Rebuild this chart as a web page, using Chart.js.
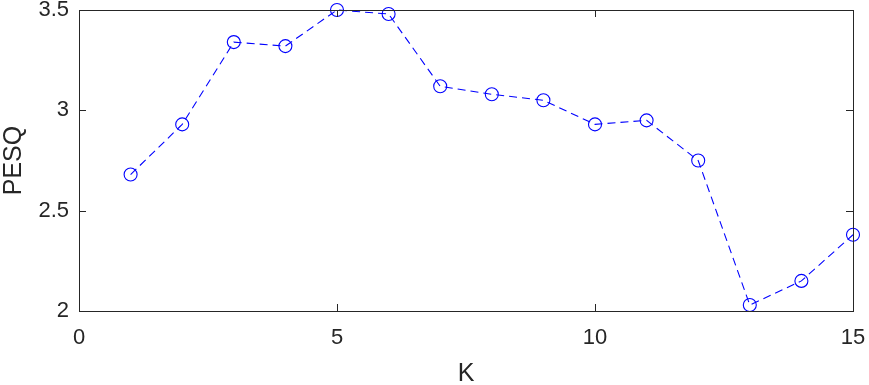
<!DOCTYPE html>
<html>
<head>
<meta charset="utf-8">
<script src="https://cdn.jsdelivr.net/npm/chart.js@4/dist/chart.umd.min.js"></script>
<style>
  html, body { margin: 0; padding: 0; background: #fff; }
  #wrap { width: 869px; height: 385px; }
</style>
</head>
<body>
<div id="wrap"><canvas id="chart" width="869" height="385"></canvas></div>
<script>
const kValues = [1, 2, 3, 4, 5, 6, 7, 8, 9, 10, 11, 12, 13, 14, 15];
const pesqValues = [2.68, 2.93, 3.34, 3.32, 3.50, 3.48, 3.12, 3.08, 3.05, 2.93, 2.95, 2.75, 2.03, 2.15, 2.38];
const xTicks = [0, 5, 10, 15];
const yTicks = [2, 2.5, 3, 3.5];

const points = kValues.map((k, i) => ({ x: k, y: pesqValues[i] }));
const axisColor = "#262626";
const fontFamily = "'Liberation Sans', Arial, Helvetica, sans-serif";

// box round the plot and MATLAB style ticks pointing inwards
const boxTicks = {
    id: "boxTicks",
    afterDatasetsDraw(chart) {
        const ctx = chart.ctx;
        const a = chart.chartArea;
        const xs = chart.scales.x, ys = chart.scales.y;
        const len = 7;
        ctx.save();
        ctx.strokeStyle = axisColor;
        ctx.lineWidth = 1;
        ctx.beginPath();
        for (let v of xTicks) {
            const px = Math.round(xs.getPixelForValue(v)) + 0.5;
            ctx.moveTo(px, a.bottom); ctx.lineTo(px, a.bottom - len);
            ctx.moveTo(px, a.top); ctx.lineTo(px, a.top + len);
        }
        for (let v of yTicks) {
            const py = Math.round(ys.getPixelForValue(v)) + 0.5;
            ctx.moveTo(a.left, py); ctx.lineTo(a.left + len, py);
            ctx.moveTo(a.right, py); ctx.lineTo(a.right - len, py);
        }
        ctx.stroke();
        ctx.strokeRect(Math.round(a.left) + 0.5, Math.round(a.top) + 0.5,
            Math.round(a.right - a.left), Math.round(a.bottom - a.top));
        ctx.restore();
    }
};

new Chart(document.getElementById("chart"), {
    type: "line",
    data: {
        datasets: [{
            data: points,
            borderColor: "#0000ff",
            borderWidth: 1.1,
            borderDash: [8, 5],
            pointStyle: "circle",
            pointRadius: 6.5,
            pointBorderWidth: 1.1,
            pointBorderColor: "#0000ff",
            pointBackgroundColor: "rgba(0,0,0,0)",
            fill: false,
            tension: 0,
            clip: false
        }]
    },
    options: {
        responsive: false,
        animation: false,
        events: [],
        layout: { padding: { left: 0, right: 16, top: 10, bottom: 0 } },
        plugins: { legend: { display: false }, tooltip: { enabled: false } },
        scales: {
            x: {
                type: "linear",
                min: 0, max: 15,
                afterBuildTicks: (scale) => { scale.ticks = xTicks.map(v => ({ value: v })); },
                afterFit: (scale) => {
                    scale.height = 74;
                    scale.paddingLeft = 0;
                    scale.paddingRight = 0;
                },
                grid: { display: false, drawTicks: false },
                border: { display: false },
                ticks: {
                    color: axisColor,
                    font: { family: fontFamily, size: 22 },
                    padding: 14,
                    maxRotation: 0
                },
                title: {
                    display: true,
                    text: "K",
                    color: axisColor,
                    font: { family: fontFamily, size: 25, lineHeight: 0.9 },
                    padding: { top: 0, bottom: 0 }
                }
            },
            y: {
                type: "linear",
                min: 2, max: 3.5,
                afterBuildTicks: (scale) => { scale.ticks = yTicks.map(v => ({ value: v })); },
                afterFit: (scale) => {
                    scale.width = 79;
                    scale.paddingTop = 0;
                    scale.paddingBottom = 0;
                },
                grid: { display: false, drawTicks: false },
                border: { display: false },
                ticks: {
                    color: axisColor,
                    font: { family: fontFamily, size: 22 },
                    padding: 10,
                    callback: (v) => String(v)
                },
                title: {
                    display: true,
                    text: "PESQ",
                    color: axisColor,
                    font: { family: fontFamily, size: 25, lineHeight: 1.1 },
                    padding: { top: 0, bottom: 0 }
                }
            }
        }
    },
    plugins: [boxTicks]
});
</script>
</body>
</html>
